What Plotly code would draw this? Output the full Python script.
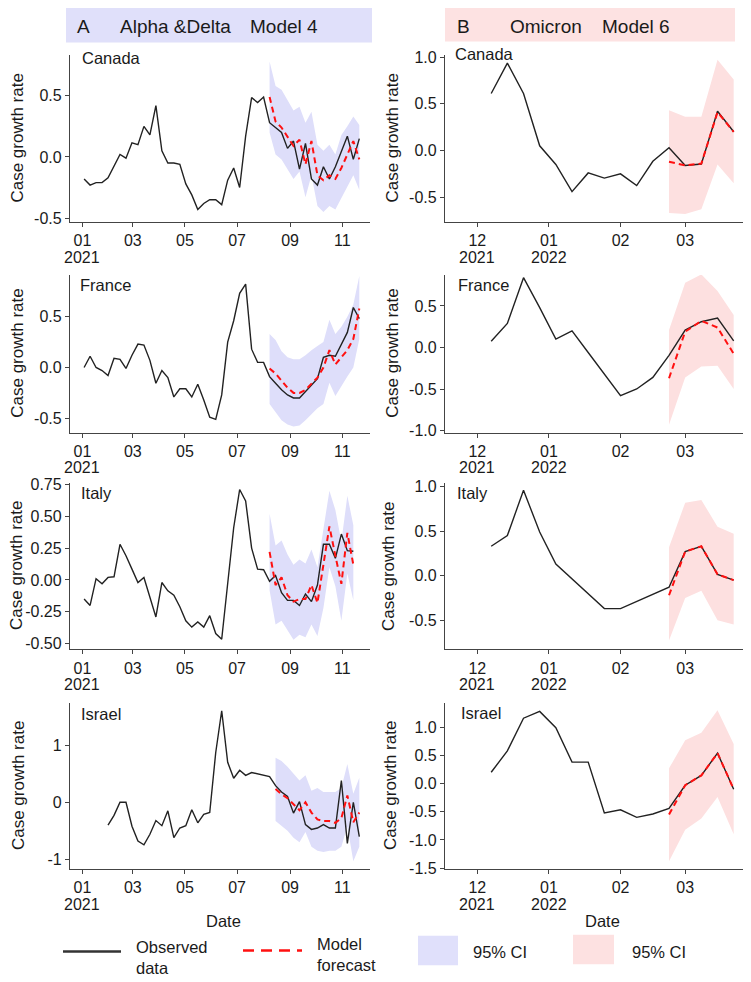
import pandas as pd
import plotly.graph_objects as go

W, H = 751, 982
OFF = 8  # page body margin seen in the rendered page

countries = ["Canada", "France", "Italy", "Israel"]

# ---- A: Alpha & Delta, Model 4 (weekly case growth rate, 2021) ----
alpha_start = ["2021-01-03", "2021-01-03", "2021-01-03", "2021-01-31"]
alpha_fc_start = ["2021-08-08", "2021-08-08", "2021-08-08", "2021-08-15"]

canada_a_obs = [-0.18, -0.23, -0.21, -0.21, -0.17, -0.07, 0.02, -0.01, 0.115, 0.10,
                0.25, 0.18, 0.42, 0.05, -0.05, -0.05, -0.06, -0.22, -0.31, -0.43,
                -0.38, -0.35, -0.35, -0.39, -0.19, -0.09, -0.25, 0.17, 0.485, 0.445,
                0.49, 0.28, 0.24, 0.20, 0.07, 0.13, -0.10, 0.11, -0.18, -0.23,
                -0.08, -0.18, -0.08, 0.05, 0.17, -0.02, 0.15]
canada_a_fc = [0.49, 0.29, 0.24, 0.17, 0.09, 0.14, -0.06, 0.13, -0.15, -0.19, -0.15, -0.18, -0.09, 0.02, 0.13, -0.02]
canada_a_hi = [0.78, 0.58, 0.55, 0.46, 0.38, 0.41, 0.28, 0.37, 0.10, 0.05, 0.10, 0.02, 0.18, 0.25, 0.33, 0.26]
canada_a_lo = [0.20, 0.02, -0.02, -0.10, -0.18, -0.12, -0.33, -0.15, -0.40, -0.45, -0.40, -0.43, -0.34, -0.25, -0.15, -0.27]

france_a_obs = [0.0, 0.11, 0.0, -0.03, -0.08, 0.09, 0.08, -0.01, 0.12, 0.23,
                0.22, 0.07, -0.155, -0.03, -0.10, -0.29, -0.21, -0.21, -0.29, -0.165,
                -0.32, -0.49, -0.51, -0.27, 0.25, 0.46, 0.73, 0.82, 0.18, 0.05,
                0.05, -0.09, -0.155, -0.22, -0.27, -0.30, -0.30, -0.235, -0.17, -0.11,
                0.10, 0.12, 0.11, 0.22, 0.345, 0.59, 0.48]
france_a_fc = [-0.01, -0.06, -0.13, -0.20, -0.25, -0.25, -0.22, -0.16, -0.10, 0.00, 0.17, 0.03, 0.10, 0.17, 0.28, 0.58]
france_a_hi = [0.33, 0.27, 0.16, 0.10, 0.08, 0.08, 0.12, 0.17, 0.21, 0.25, 0.47, 0.33, 0.40, 0.50, 0.62, 0.90]
france_a_lo = [-0.36, -0.44, -0.52, -0.56, -0.58, -0.57, -0.52, -0.46, -0.40, -0.36, -0.15, -0.28, -0.18, -0.09, 0.0, 0.28]

italy_a_obs = [-0.15, -0.20, 0.01, -0.03, 0.02, 0.025, 0.28, 0.19, 0.085, -0.02,
               0.02, -0.14, -0.29, -0.02, -0.085, -0.12, -0.21, -0.32, -0.37, -0.33,
               -0.37, -0.28, -0.42, -0.465, 0.0, 0.41, 0.71, 0.62, 0.25, 0.085,
               0.08, -0.01, 0.035, -0.10, -0.16, -0.16, -0.20, -0.11, -0.17, -0.04,
               0.28, 0.28, 0.17, 0.36, 0.23, 0.225]
italy_a_fc = [0.22, -0.04, 0.02, -0.12, -0.17, -0.15, -0.15, -0.04, -0.18, 0.12, 0.42, 0.19, -0.03, 0.37, 0.12]
italy_a_hi = [0.52, 0.27, 0.31, 0.20, 0.12, 0.16, 0.13, 0.24, 0.10, 0.42, 0.70, 0.55, 0.30, 0.66, 0.43]
italy_a_lo = [-0.08, -0.35, -0.32, -0.40, -0.47, -0.43, -0.45, -0.35, -0.44, -0.22, 0.10, -0.05, -0.32, 0.05, -0.16]

israel_a_obs = [-0.40, -0.23, 0.0, 0.0, -0.42, -0.68, -0.745, -0.56, -0.32, -0.41,
                -0.15, -0.62, -0.45, -0.41, -0.13, -0.36, -0.21, -0.18, 0.87, 1.60,
                0.70, 0.42, 0.56, 0.47, 0.52, 0.50, 0.48, 0.45, 0.29, 0.18,
                0.10, -0.19, 0.01, -0.39, -0.475, -0.45, -0.39, -0.45, -0.45, 0.38,
                -0.72, 0.0, -0.60]
israel_a_fc = [0.23, 0.14, 0.07, -0.04, -0.14, 0.0, -0.18, -0.30, -0.33, -0.33, -0.36, -0.28, 0.12, -0.35, -0.18]
israel_a_hi = [0.78, 0.72, 0.62, 0.50, 0.38, 0.47, 0.20, 0.25, 0.18, 0.18, 0.18, 0.25, 0.67, 0.15, 0.43]
israel_a_lo = [-0.33, -0.42, -0.50, -0.62, -0.70, -0.52, -0.78, -0.85, -0.87, -0.85, -0.85, -0.78, -0.42, -1.03, -0.78]

# ---- B: Omicron, Model 6 (weekly, Dec 2021 - Mar 2022) ----
omicron_start = "2021-12-07"
omicron_fc_start = "2022-02-22"

canada_b_obs = [0.61, 0.935, 0.61, 0.05, -0.15, -0.44, -0.24, -0.295, -0.25, -0.375, -0.115, 0.03, -0.16, -0.145, 0.42, 0.20]
canada_b_fc = [-0.12, -0.16, -0.14, 0.41, 0.20]
canada_b_hi = [0.43, 0.36, 0.36, 0.97, 0.76]
canada_b_lo = [-0.67, -0.68, -0.63, -0.15, -0.35]

france_b_obs = [0.075, 0.29, 0.84, 0.48, 0.10, 0.20, -0.06, -0.32, -0.58, -0.50, -0.36, -0.095, 0.21, 0.31, 0.355, 0.08]
france_b_fc = [-0.37, 0.19, 0.32, 0.24, -0.075]
france_b_hi = [0.21, 0.78, 0.88, 0.68, 0.39]
france_b_lo = [-0.93, -0.36, -0.23, -0.22, -0.50]

italy_b_obs = [0.33, 0.45, 0.96, 0.49, 0.13, -0.04, -0.21, -0.37, -0.37, -0.29, -0.21, -0.13, 0.27, 0.33, 0.015, -0.05]
italy_b_fc = [-0.22, 0.27, 0.33, 0.015, -0.05]
italy_b_hi = [0.32, 0.82, 0.85, 0.55, 0.47]
italy_b_lo = [-0.73, -0.25, -0.17, -0.50, -0.55]

israel_b_obs = [0.20, 0.58, 1.16, 1.28, 0.99, 0.38, 0.38, -0.52, -0.465, -0.60, -0.54, -0.44, -0.03, 0.145, 0.54, -0.10]
israel_b_fc = [-0.55, -0.03, 0.145, 0.54, -0.10]
israel_b_hi = [0.27, 0.77, 0.90, 1.30, 0.70]
israel_b_lo = [-1.38, -0.82, -0.62, -0.24, -0.90]

# tick labels
a_xticks = ["2021-01-01", "2021-03-01", "2021-05-01", "2021-07-01", "2021-09-01", "2021-11-01"]
a_xlabels = ["01", "03", "05", "07", "09", "11"]
a_years = [("2021-01-01", "2021")]
b_xticks = ["2021-12-01", "2022-01-01", "2022-02-01", "2022-03-01"]
b_xlabels = ["12", "01", "02", "03"]
b_years = [("2021-12-01", "2021"), ("2022-01-01", "2022")]

a_yticks = [[-0.5, 0, 0.5], [-0.5, 0, 0.5], [-0.5, -0.25, 0, 0.25, 0.5, 0.75], [-1, 0, 1]]
a_ylabels = [["-0.5", "0.0", "0.5"], ["-0.5", "0.0", "0.5"],
             ["-0.50", "-0.25", "0.00", "0.25", "0.50", "0.75"], ["-1", "0", "1"]]
b_yticks = [[-0.5, 0, 0.5, 1], [-1, -0.5, 0, 0.5], [-0.5, 0, 0.5, 1], [-1.5, -1, -0.5, 0, 0.5, 1]]
b_ylabels = [["-0.5", "0.0", "0.5", "1.0"], ["-1.0", "-0.5", "0.0", "0.5"],
             ["-0.5", "0.0", "0.5", "1.0"], ["-1.5", "-1.0", "-0.5", "0.0", "0.5", "1.0"]]

a_yrange = [(-0.53, 0.83), (-0.64, 0.91), (-0.543, 0.763), (-1.163, 1.73)]
b_yrange = [(-0.763, 1.018), (-1.024, 0.873), (-0.826, 1.044), (-1.512, 1.424)]

BLUE_CI = "#DEDEFA"
PINK_CI = "#FDE0E0"
TXT = "#1a1a1a"
AX = "#444444"
FONT = "Liberation Sans, Arial, sans-serif"

a_sets = [
    (canada_a_obs, canada_a_fc, canada_a_lo, canada_a_hi),
    (france_a_obs, france_a_fc, france_a_lo, france_a_hi),
    (italy_a_obs, italy_a_fc, italy_a_lo, italy_a_hi),
    (israel_a_obs, israel_a_fc, israel_a_lo, israel_a_hi),
]
b_sets = [
    (canada_b_obs, canada_b_fc, canada_b_lo, canada_b_hi),
    (france_b_obs, france_b_fc, france_b_lo, france_b_hi),
    (italy_b_obs, italy_b_fc, italy_b_lo, italy_b_hi),
    (israel_b_obs, israel_b_fc, israel_b_lo, israel_b_hi),
]


def weekly(start, vals):
    return pd.date_range(start, periods=len(vals), freq="7D")


# screen pixel -> paper coordinates
def fx(p):
    return (p - OFF) / W


def fy(p):
    return 1 - (p - OFF) / H


rows_px = [(49, 218), (272, 432), (483, 652), (707, 875)]
cols_px = [(70, 370), (445, 746)]

fig = go.Figure()
layout = {}
annotations = []


def add_panel(k, obs_start, fc_start, data, ci_color):
    obs, fc, lo, hi = data
    xa, ya = ("x%d" % k if k > 1 else "x"), ("y%d" % k if k > 1 else "y")
    xo = weekly(obs_start, obs)
    xf = weekly(fc_start, fc)
    fig.add_trace(go.Scatter(x=xf, y=lo, mode="lines", line=dict(width=0), xaxis=xa, yaxis=ya,
                             showlegend=False, hoverinfo="skip"))
    fig.add_trace(go.Scatter(x=xf, y=hi, mode="lines", line=dict(width=0), fill="tonexty",
                             fillcolor=ci_color, xaxis=xa, yaxis=ya, showlegend=False, hoverinfo="skip"))
    fig.add_trace(go.Scatter(x=xo, y=obs, mode="lines", line=dict(color="#222222", width=1.4),
                             xaxis=xa, yaxis=ya, showlegend=False))
    fig.add_trace(go.Scatter(x=xf, y=fc, mode="lines", line=dict(color="#FF1010", width=2, dash="6px,4px"),
                             xaxis=xa, yaxis=ya, showlegend=False))


ylab_x_a = [18, 18, 17, 18]
ylab_x_b = [393, 393, 389, 390]
name_pos_a = [(80, 52), (78, 282), (79, 493), (79, 718)]
name_pos_b = [(453, 48), (456, 282), (455, 493), (459, 717)]

for r in range(4):
    for c in range(2):
        k = r * 2 + c + 1
        top, bot = rows_px[r]
        left, right = cols_px[c]
        if c == 0:
            add_panel(k, alpha_start[r], alpha_fc_start[r], a_sets[r], BLUE_CI)
            xr = ["2020-12-17 12:00", "2021-12-03 12:00"]
            xt, xl, years = a_xticks, a_xlabels, a_years
            yr, yt, yl = a_yrange[r], a_yticks[r], a_ylabels[r]
        else:
            add_panel(k, omicron_start, omicron_fc_start, b_sets[r], PINK_CI)
            xr = ["2021-11-17", "2022-03-27 08:00"]
            xt, xl, years = b_xticks, b_xlabels, b_years
            yr, yt, yl = b_yrange[r], b_yticks[r], b_ylabels[r]
        sx = "" if k == 1 else str(k)
        layout["xaxis" + sx] = dict(
            domain=[fx(left), fx(right)], anchor="y" + sx, range=xr, type="date",
            tickvals=xt, ticktext=xl, showline=True, linecolor=AX, linewidth=1.3,
            ticks="outside", ticklen=4, tickcolor=AX, showgrid=False, zeroline=False,
            tickfont=dict(size=16, color=TXT, family=FONT),
        )
        layout["yaxis" + sx] = dict(
            domain=[fy(bot), fy(top)], anchor="x" + sx, range=list(yr),
            tickvals=yt, ticktext=yl, showline=True, linecolor=AX, linewidth=1.3,
            ticks="outside", ticklen=4, tickcolor=AX, showgrid=False, zeroline=False,
            tickfont=dict(size=16, color=TXT, family=FONT),
        )
        # year line under the month ticks
        for d, yt_txt in years:
            annotations.append(dict(text=yt_txt, x=d, xref="x" + sx, y=fy(bot + 36), yref="paper",
                                    xanchor="center", yanchor="middle", showarrow=False, borderpad=0,
                                    font=dict(size=16, color=TXT, family=FONT)))
        # y axis title
        ytx = ylab_x_a[r] if c == 0 else ylab_x_b[r]
        annotations.append(dict(text="Case growth rate", x=fx(ytx), y=fy((top + bot) / 2),
                                xref="paper", yref="paper", xanchor="center", yanchor="middle",
                                showarrow=False, textangle=-90, borderpad=0,
                                font=dict(size=17, color=TXT, family=FONT)))
        # country name
        nx, ny = name_pos_a[r] if c == 0 else name_pos_b[r]
        annotations.append(dict(text=countries[r], x=fx(nx), y=fy(ny), xref="paper", yref="paper",
                                xanchor="left", yanchor="middle", showarrow=False,
                                font=dict(size=16.5, color=TXT, family=FONT)))

# panel headers
shapes = [
    dict(type="rect", xref="paper", yref="paper", x0=fx(66), x1=fx(372), y0=fy(36), y1=fy(0),
         fillcolor="#E0E0FA", line=dict(width=0), layer="below"),
    dict(type="rect", xref="paper", yref="paper", x0=fx(445), x1=fx(735), y0=fy(35), y1=fy(0),
         fillcolor="#FDE2E2", line=dict(width=0), layer="below"),
]
header_texts = [("A", 75), ("Alpha &Delta", 118), ("Model 4", 248),
                ("B", 455), ("Omicron", 508), ("Model 6", 600)]
for t, xpos in header_texts:
    annotations.append(dict(text=t, x=fx(xpos), y=fy(20), xref="paper", yref="paper",
                            xanchor="left", yanchor="middle", showarrow=False,
                            font=dict(size=19, color=TXT, family=FONT)))

# x axis titles
for xpos in (223, 602):
    annotations.append(dict(text="Date", x=fx(xpos), y=fy(928), xref="paper", yref="paper",
                            xanchor="center", yanchor="middle", showarrow=False,
                            font=dict(size=16.5, color=TXT, family=FONT)))

# legend (drawn manually)
shapes += [
    dict(type="line", xref="paper", yref="paper", x0=fx(63), x1=fx(121), y0=fy(959), y1=fy(959),
         line=dict(color="#333333", width=2.5)),
    dict(type="line", xref="paper", yref="paper", x0=fx(243), x1=fx(302), y0=fy(958), y1=fy(958),
         line=dict(color="#FF1010", width=2.5, dash="11px,7px")),
    dict(type="rect", xref="paper", yref="paper", x0=fx(418), x1=fx(458), y0=fy(973), y1=fy(943),
         fillcolor="#E0E0FB", line=dict(width=0)),
    dict(type="rect", xref="paper", yref="paper", x0=fx(573), x1=fx(614), y0=fy(972), y1=fy(942),
         fillcolor="#FDE1E1", line=dict(width=0)),
]
legend_texts = [("Observed<br>data", 134, 965), ("Model<br>forecast", 315, 962),
                ("95% CI", 471, 960), ("95% CI", 630, 960)]
for t, xpos, ypos in legend_texts:
    annotations.append(dict(text=t, x=fx(xpos), y=fy(ypos), xref="paper", yref="paper",
                            xanchor="left", yanchor="middle", align="left", showarrow=False,
                            font=dict(size=16.5, color=TXT, family=FONT)))

fig.update_layout(
    width=W, height=H,
    margin=dict(l=0, r=0, t=0, b=0),
    paper_bgcolor="white", plot_bgcolor="white",
    font=dict(family=FONT, color=TXT),
    showlegend=False,
    annotations=annotations,
    shapes=shapes,
    **layout,
)

fig.write_html("out.html")
